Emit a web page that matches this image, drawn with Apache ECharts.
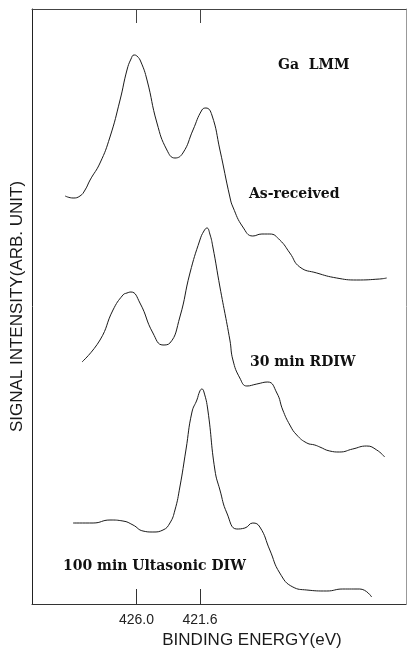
<!DOCTYPE html>
<html>
<head>
<meta charset="utf-8">
<script src="https://cdn.jsdelivr.net/npm/echarts@6/dist/echarts.min.js"></script>
<style>
  html, body { margin: 0; padding: 0; background: #fff; }
  #main { width: 407px; height: 648px; }
</style>
</head>
<body>
<div id="main"></div>
<script>
// binding energy (eV) and signal intensity (arb. unit, offset per spectrum)
var asReceivedE = [430.95, 430.40, 429.92, 429.57, 429.22, 428.53, 427.84, 427.14, 426.66, 426.38, 426.17, 425.97, 425.69, 425.27, 424.58, 423.89, 423.33, 422.78, 422.08, 421.46, 421.18, 420.77, 420.21, 419.52, 419.31, 418.62, 417.93, 417.30, 416.75, 416.06, 415.36, 414.67, 413.49, 412.11, 410.72, 409.13, 408.64];
var asReceivedI = [408, 406, 408, 414, 424, 441, 467, 504, 534, 545, 549, 548, 542, 524, 481, 454, 446, 451, 474, 494, 496, 489, 454, 407, 397, 377, 368, 370, 370, 364, 351, 337, 331, 326, 324, 325, 326];

var rdiwE = [429.78, 428.53, 427.63, 426.94, 426.66, 426.38, 425.76, 424.86, 424.16, 423.68, 422.99, 422.29, 421.60, 421.32, 421.11, 420.91, 420.70, 420.21, 419.52, 419.31, 418.83, 418.34, 417.65, 416.89, 416.26, 415.85, 415.36, 414.88, 414.18, 413.63, 413.28, 412.59, 411.90, 411.00, 410.03, 409.33, 408.78];
var rdiwI = [242, 264, 294, 309, 311, 312, 301, 271, 259, 261, 287, 331, 364, 373, 376, 370, 357, 317, 264, 244, 226, 218, 220, 222, 211, 194, 179, 169, 161, 159, 157, 153, 152, 155, 158, 154, 147];

var ultraE = [430.40, 429.01, 427.84, 426.94, 426.24, 425.55, 424.86, 424.16, 423.68, 423.33, 422.99, 422.57, 422.15, 421.81, 421.60, 421.46, 421.32, 421.05, 420.56, 420.21, 419.73, 419.04, 418.48, 417.93, 417.44, 416.75, 416.06, 415.15, 414.18, 412.80, 411.69, 410.51, 409.68];
var ultraI = [81, 81, 84, 83, 79, 73, 72, 74, 81, 94, 117, 154, 192, 204, 213, 215, 212, 194, 134, 114, 91, 75, 76, 81, 77, 54, 31, 17, 14, 13, 15, 15, 7];

var tickValues = [426.0, 421.6];

function pairs(xs, ys) {
  var out = [];
  for (var i = 0; i < xs.length; i++) {
    out.push([xs[i], ys[i]]);
  }
  return out;
}

var chart = echarts.init(document.getElementById('main'));

var lineColor = '#1a1a1a';
var serifLabel = {
  fontFamily: 'DejaVu Serif',
  fontWeight: 'bold',
  fontSize: 14,
  fill: '#111'
};

function spectrum(name, xs, ys) {
  return {
    name: name,
    type: 'line',
    smooth: 0.5,
    showSymbol: false,
    data: pairs(xs, ys),
    lineStyle: { color: lineColor, width: 1 },
    silent: true
  };
}

var option = {
  animation: false,
  backgroundColor: '#fff',
  grid: { left: 32, top: 9, right: 1, bottom: 44, outerBoundsMode: 'none' },
  xAxis: [{
    type: 'value',
    inverse: true,
    min: 407.3,
    max: 433.25,
    position: 'bottom',
    name: 'BINDING ENERGY(eV)',
    nameLocation: 'middle',
    nameGap: 25,
    nameTextStyle: {
      fontFamily: 'Liberation Sans',
      fontSize: 17,
      color: '#1a1a1a',
      padding: [0, 0, 0, 66]
    },
    axisLine: { show: true, onZero: false, lineStyle: { color: '#333', width: 1 } },
    axisTick: { show: true, inside: true, length: 15, customValues: tickValues, lineStyle: { color: '#333' } },
    axisLabel: {
      customValues: tickValues,
      margin: 9,
      fontFamily: 'Liberation Sans',
      fontSize: 14,
      color: '#222',
      formatter: function (v) { return v.toFixed(1); }
    },
    splitLine: { show: false }
  }, {
    type: 'value',
    inverse: true,
    min: 407.3,
    max: 433.25,
    position: 'top',
    axisLine: { show: true, onZero: false, lineStyle: { color: '#444', width: 1 } },
    axisTick: { show: true, inside: true, length: 14, customValues: tickValues, lineStyle: { color: '#444' } },
    axisLabel: { show: false },
    splitLine: { show: false }
  }],
  yAxis: [{
    type: 'value',
    min: 0,
    max: 595,
    position: 'left',
    name: 'SIGNAL INTENSITY(ARB. UNIT)',
    nameLocation: 'middle',
    nameRotate: 90,
    nameGap: 6,
    nameTextStyle: {
      fontFamily: 'Liberation Sans',
      fontSize: 17,
      color: '#1a1a1a'
    },
    axisLine: { show: true, onZero: false, lineStyle: { color: '#222', width: 1 } },
    axisTick: { show: false },
    axisLabel: { show: false },
    splitLine: { show: false }
  }, {
    type: 'value',
    min: 0,
    max: 595,
    position: 'right',
    axisLine: { show: true, onZero: false, lineStyle: { color: '#999', width: 1 } },
    axisTick: { show: false },
    axisLabel: { show: false },
    splitLine: { show: false }
  }],
  series: [
    spectrum('As-received', asReceivedE, asReceivedI),
    spectrum('30 min RDIW', rdiwE, rdiwI),
    spectrum('100 min Ultasonic DIW', ultraE, ultraI)
  ],
  graphic: [
    { type: 'text', left: 278, top: 58, style: Object.assign({ text: 'Ga  LMM' }, serifLabel) },
    { type: 'text', left: 249, top: 187, style: Object.assign({ text: 'As-received' }, serifLabel) },
    { type: 'text', left: 250, top: 355, style: Object.assign({ text: '30 min RDIW' }, serifLabel) },
    { type: 'text', left: 63, top: 559, style: Object.assign({ text: '100 min Ultasonic DIW' }, serifLabel) }
  ]
};

chart.setOption(option);
</script>
</body>
</html>
